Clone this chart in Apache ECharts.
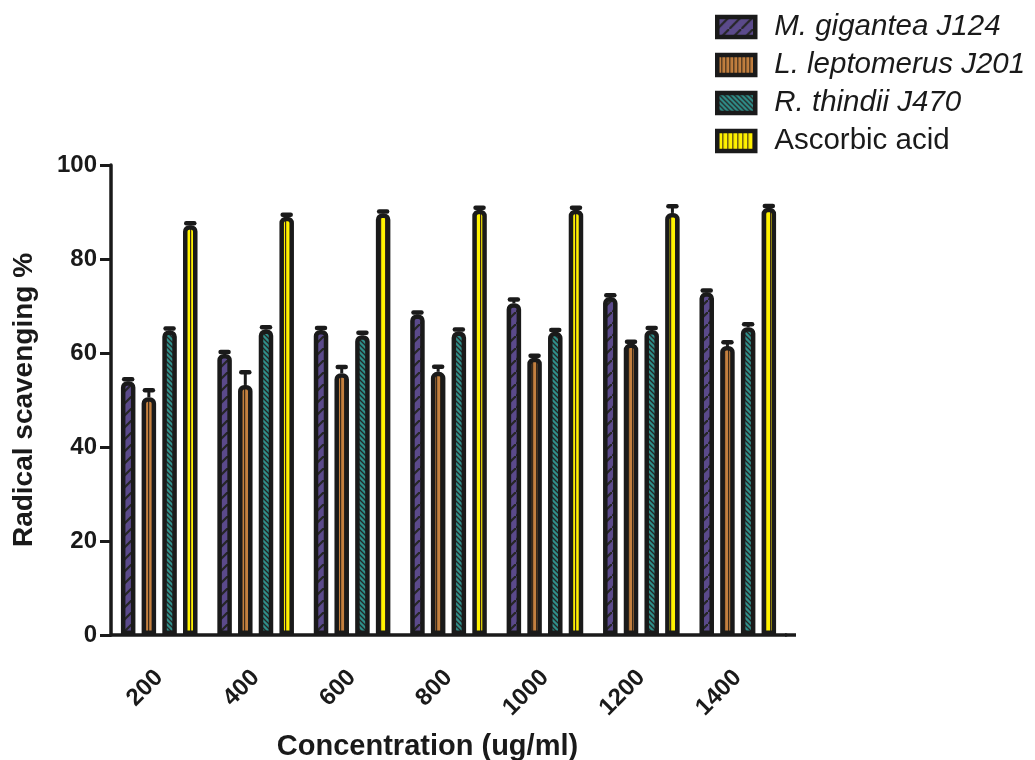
<!DOCTYPE html>
<html>
<head>
<meta charset="utf-8">
<script src="https://cdn.jsdelivr.net/npm/echarts@6/dist/echarts.min.js"></script>
<style>html,body{margin:0;padding:0;background:#fff}#chart{width:1035px;height:760px}</style>
</head>
<body>
<div id="chart"></div>
<script>
const categories = ['200', '400', '600', '800', '1000', '1200', '1400'];
const seriesNames = ['M. gigantea J124', 'L. leptomerus J201', 'R. thindii J470', 'Ascorbic acid'];
const gigantea = [54.0, 59.8, 64.9, 68.2, 70.6, 71.9, 72.9];
const leptomerus = [50.6, 53.2, 55.7, 56.0, 59.0, 62.0, 61.5];
const thindii = [64.8, 65.0, 63.8, 64.6, 64.5, 64.9, 65.5];
const ascorbic = [87.2, 89.0, 89.7, 90.5, 90.5, 89.8, 90.9];
const giganteaErr = [0.4, 0.4, 0.4, 0.4, 0.8, 0.4, 0.4];
const leptomerusErr = [1.5, 2.7, 1.3, 1.1, 0.4, 0.4, 0.8];
const thindiiErr = [0.4, 0.5, 0.5, 0.4, 0.4, 0.4, 0.6];
const ascorbicErr = [0.4, 0.4, 0.4, 0.4, 0.4, 1.4, 0.4];
const yTicks = [0, 20, 40, 60, 80, 100];

const FONT = 'Liberation Sans, Arial, sans-serif';
const INK = '#1a1a1a';
const BAR_W = 14.5, GAP = 6.2, BORDER = 4.5;

function makePattern(bg, kind) {
  const c = document.createElement('canvas');
  const ctx = c.getContext('2d');
  if (kind === 'slash') {
    c.width = 12; c.height = 12;
    ctx.fillStyle = bg; ctx.fillRect(0, 0, 12, 12);
    ctx.strokeStyle = '#262626'; ctx.lineWidth = 2.2;
    ctx.beginPath();
    ctx.moveTo(-2, 14); ctx.lineTo(14, -2);
    ctx.stroke();
  } else if (kind === 'backslash') {
    c.width = 5; c.height = 5;
    ctx.fillStyle = bg; ctx.fillRect(0, 0, 5, 5);
    ctx.strokeStyle = '#262626'; ctx.lineWidth = 1.3;
    ctx.beginPath();
    ctx.moveTo(-1, -1); ctx.lineTo(6, 6);
    ctx.moveTo(-1, 4); ctx.lineTo(1, 6);
    ctx.moveTo(4, -1); ctx.lineTo(6, 1);
    ctx.stroke();
  } else {
    const w = kind === 'vert' ? 4 : 5;
    c.width = w; c.height = 4;
    ctx.fillStyle = bg; ctx.fillRect(0, 0, w, 4);
    ctx.fillStyle = '#3a2a1a'; ctx.fillRect(0, 0, 1.2, 4);
  }
  return { image: c, repeat: 'repeat' };
}

const colors = [
  makePattern('#5b4a8b', 'slash'),
  makePattern('#c4803f', 'vert'),
  makePattern('#2e8f8a', 'backslash'),
  makePattern('#fff200', 'vert2')
];
const values = [gigantea, leptomerus, thindii, ascorbic];
const errs = [giganteaErr, leptomerusErr, thindiiErr, ascorbicErr];

const series = [];
values.forEach((vals, i) => {
  series.push({
    name: seriesNames[i],
    type: 'bar',
    data: vals,
    barWidth: BAR_W,
    barGap: (GAP / BAR_W * 100) + '%',
    itemStyle: { color: colors[i], borderColor: INK, borderWidth: BORDER, borderRadius: [4, 4, 0, 0] },
    z: 2
  });
});
values.forEach((vals, i) => {
  const offset = (i - 1.5) * (BAR_W + GAP);
  series.push({
    name: 'err' + i,
    type: 'custom',
    z: 5,
    renderItem: function (params, api) {
      const idx = api.value(0), v = api.value(1), e = api.value(2);
      const base = api.coord([idx, v]);
      const top = api.coord([idx, v + e]);
      const x = base[0] + offset;
      return {
        type: 'group',
        children: [
          { type: 'line', shape: { x1: x, y1: base[1], x2: x, y2: top[1] }, style: { stroke: INK, lineWidth: 3 } },
          { type: 'line', shape: { x1: x - 4, y1: top[1], x2: x + 4, y2: top[1] }, style: { stroke: INK, lineWidth: 4.5, lineCap: 'round' } }
        ]
      };
    },
    encode: { x: 0, y: 1 },
    data: vals.map((v, k) => [k, v, errs[i][k]])
  });
});

const chart = echarts.init(document.getElementById('chart'), null, { renderer: 'canvas' });
chart.setOption({
  animation: false,
  backgroundColor: '#ffffff',
  grid: { left: 111, right: 249, top: 165, bottom: 125, containLabel: false, outerBoundsMode: 'none' },
  legend: {
    orient: 'vertical',
    left: 715, top: 12,
    padding: 0,
    icon: 'rect',
    itemWidth: 38, itemHeight: 20, itemGap: 8,
    itemStyle: { borderColor: INK, borderWidth: 4.5 },
    textStyle: { fontFamily: FONT, fontSize: 29.5, color: '#1a1a1a', padding: [0, 0, 0, 14] },
    data: seriesNames.map((n, i) => ({ name: n, textStyle: { fontStyle: i < 3 ? 'italic' : 'normal' } }))
  },
  xAxis: {
    type: 'category',
    data: categories,
    name: 'Concentration (ug/ml)',
    nameLocation: 'middle',
    nameGap: 97,
    nameTextStyle: { fontFamily: FONT, fontSize: 29, fontWeight: 'bold', color: INK, padding: [0, 42, 0, 0] },
    axisLine: { lineStyle: { color: INK, width: 3.5 } },
    axisTick: { alignWithLabel: true, length: 10, lineStyle: { color: INK, width: 3 } },
    axisLabel: { rotate: 45, fontFamily: FONT, fontSize: 24, fontWeight: 'bold', color: INK, margin: 39 }
  },
  yAxis: {
    type: 'value',
    min: yTicks[0], max: yTicks[yTicks.length - 1], interval: 20,
    name: 'Radical scavenging %',
    nameLocation: 'middle',
    nameGap: 73,
    nameTextStyle: { fontFamily: FONT, fontSize: 28, fontWeight: 'bold', color: INK },
    axisLine: { show: true, lineStyle: { color: INK, width: 3.5 } },
    axisTick: { show: true, length: 11, lineStyle: { color: INK, width: 3 } },
    axisLabel: { fontFamily: FONT, fontSize: 24, fontWeight: 'bold', color: INK, margin: 14 },
    splitLine: { show: false }
  },
  series: series
});

// extend the x axis line a little beyond the last category, as in the original
const gridRect = chart.getModel().getComponent('grid').coordinateSystem.getRect();
chart.setOption({
  graphic: [{
    type: 'line',
    shape: { x1: gridRect.x + gridRect.width - 1, y1: gridRect.y + gridRect.height, x2: gridRect.x + gridRect.width + 10, y2: gridRect.y + gridRect.height },
    style: { stroke: INK, lineWidth: 3.5 },
    z: 10
  }]
});
</script>
</body>
</html>
